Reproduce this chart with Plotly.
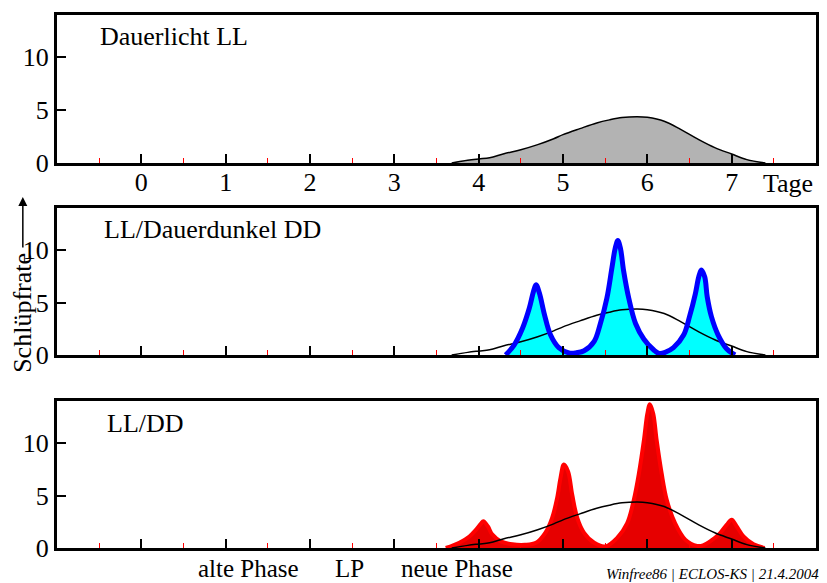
import plotly.graph_objects as go

# ---------------- data ----------------
days = [0, 1, 2, 3, 4, 5, 6, 7]
day_labels = ["0", "1", "2", "3", "4", "5", "6", "7"]
half_days = [-0.5, 0.5, 1.5, 2.5, 3.5, 4.5, 5.5, 6.5, 7.5]
rate_ticks = [0, 5, 10]

# broad eclosion envelope (LL)
env_x = [3.68, 3.87, 4.0, 4.13, 4.3, 4.5, 4.7, 4.89, 5.0, 5.2, 5.4, 5.55, 5.7, 5.88, 6.0,
         6.2, 6.4, 6.6, 6.8, 7.0, 7.18, 7.4]
env_y = [0.0, 0.25, 0.38, 0.5, 0.88, 1.26, 1.74, 2.3, 2.68, 3.25, 3.79, 4.08, 4.3, 4.38, 4.32,
         3.95, 3.15, 2.25, 1.45, 0.85, 0.32, 0.0]

# LL -> DD gated peaks
dd_x = [4.32, 4.42, 4.52, 4.60, 4.65, 4.68, 4.72, 4.78, 4.85, 4.95, 5.07, 5.15, 5.25, 5.37,
        5.44, 5.52, 5.58, 5.62, 5.65, 5.68, 5.72, 5.78, 5.86, 5.96, 6.08, 6.14, 6.21, 6.31,
        6.43, 6.50, 6.57, 6.61, 6.64, 6.68, 6.71, 6.76, 6.84, 6.94, 7.04]
dd_y = [0.0, 0.95, 2.55, 4.45, 6.05, 6.7, 5.9, 3.85, 1.95, 0.7, 0.2, 0.2, 0.4, 1.3,
        2.9, 5.4, 8.3, 10.2, 10.9, 10.2, 7.95, 5.4, 3.0, 1.5, 0.45, 0.15, 0.25, 0.7,
        1.9, 3.65, 5.85, 7.45, 8.1, 7.45, 5.55, 3.65, 1.9, 0.6, 0.0]

# LL/DD with light pulse (phase shift)
lp_x = [3.61, 3.77, 3.89, 3.97, 4.03, 4.055, 4.11, 4.16, 4.26, 4.40, 4.55, 4.68, 4.79, 4.87,
        4.93, 4.97, 5.01, 5.06, 5.11, 5.17, 5.25, 5.37, 5.50, 5.64, 5.76, 5.84, 5.90, 5.96,
        6.0, 6.03, 6.07, 6.11, 6.17, 6.23, 6.33, 6.45, 6.59, 6.66, 6.74, 6.86, 6.94, 7.0,
        7.06, 7.14, 7.26, 7.39]
lp_y = [0.0, 0.5, 1.1, 1.75, 2.35, 2.55, 2.05, 1.3, 0.65, 0.35, 0.3, 0.5, 1.45, 2.85,
        4.75, 6.65, 7.95, 7.3, 5.05, 2.85, 1.45, 0.5, 0.15, 0.95, 2.35, 4.6, 7.1, 10.3,
        12.8, 13.7, 12.8, 10.3, 7.1, 4.6, 2.35, 0.8, 0.2, 0.25, 0.6, 1.4, 2.2, 2.7,
        2.05, 1.1, 0.35, 0.0]

panel_titles = ["Dauerlicht LL", "LL/Dauerdunkel DD", "LL/DD"]
bottom_labels = ["alte Phase", "LP", "neue Phase"]

# ---------------- layout helpers ----------------
W, H = 827, 583
ML, MR, MT, MB = 57, 8, 15, 35
PW, PH = W - ML - MR, H - MT - MB


def px(x):
    return (x - ML) / PW


def py(y):
    return (H - MB - y) / PH


FONT = "Liberation Serif"

fig = go.Figure()

# panel 1
fig.add_trace(go.Scatter(x=env_x, y=env_y, mode="lines", line=dict(color="black", width=1.5, shape="spline"),
                         fill="tozeroy", fillcolor="#b3b3b3", xaxis="x", yaxis="y", showlegend=False))
# panel 2
fig.add_trace(go.Scatter(x=dd_x, y=dd_y, mode="lines", line=dict(color="rgba(0,0,0,0)", width=0, shape="spline"),
                         fill="tozeroy", fillcolor="#00ffff", xaxis="x2", yaxis="y2", showlegend=False))
fig.add_trace(go.Scatter(x=env_x, y=env_y, mode="lines", line=dict(color="black", width=1.5, shape="spline"),
                         xaxis="x2", yaxis="y2", showlegend=False))
fig.add_trace(go.Scatter(x=dd_x, y=dd_y, mode="lines", line=dict(color="#0000ff", width=5, shape="spline"),
                         xaxis="x2", yaxis="y2", showlegend=False))
# panel 3
fig.add_trace(go.Scatter(x=lp_x, y=lp_y, mode="lines", line=dict(color="#ff0000", width=4, shape="spline"),
                         fill="tozeroy", fillcolor="#e60000", xaxis="x3", yaxis="y3", showlegend=False))
fig.add_trace(go.Scatter(x=env_x, y=env_y, mode="lines", line=dict(color="black", width=1.5, shape="spline"),
                         xaxis="x3", yaxis="y3", showlegend=False))

domains = [[py(163), py(15)], [py(355), py(208)], [py(548), py(401)]]

for i in range(3):
    sx = "" if i == 0 else str(i + 1)
    fig.layout["xaxis" + sx] = dict(
        domain=[0, 1], anchor="y" + sx, range=[-1, 8],
        showline=True, mirror=True, linecolor="black", linewidth=3,
        ticks="inside", tickvals=days, ticktext=day_labels, ticklen=9, tickwidth=1.5, tickcolor="black",
        minor=dict(tickvals=half_days, ticks="inside", ticklen=5, tickwidth=1, tickcolor="#ff0000"),
        showticklabels=(i == 0), showgrid=False, zeroline=False, ticklabelstandoff=-6,
        tickfont=dict(family=FONT, size=26, color="black"),
    )
    fig.layout["yaxis" + sx] = dict(
        domain=domains[i], anchor="x" + sx, range=[0, 14],
        showline=True, mirror=True, linecolor="black", linewidth=3,
        ticks="inside", tickvals=rate_ticks, ticklen=9, tickwidth=1.5, tickcolor="black",
        showgrid=False, zeroline=False,
        tickfont=dict(family=FONT, size=26, color="black"),
    )

ann = []
title_pos = [(98, 36), (102, 229), (105, 423)]
for t, (x0, y0) in zip(panel_titles, title_pos):
    ann.append(dict(text=t, x=px(x0), y=py(y0), xref="paper", yref="paper", xanchor="left", yanchor="middle",
                    showarrow=False, font=dict(family=FONT, size=26, color="black")))
ann.append(dict(text="Tage", x=px(791), y=py(183), xref="paper", yref="paper", xanchor="center", yanchor="middle",
                showarrow=False, font=dict(family=FONT, size=26, color="black")))
for t, xc in zip(bottom_labels, [249, 351, 459]):
    ann.append(dict(text=t, x=px(xc), y=py(568), xref="paper", yref="paper", xanchor="center", yanchor="middle",
                    showarrow=False, borderpad=0, font=dict(family=FONT, size=25, color="black")))
ann.append(dict(text="<i>Winfree86 | ECLOS-KS | 21.4.2004</i>", x=px(824), y=py(574), xref="paper", yref="paper",
                xanchor="right", yanchor="middle", showarrow=False, font=dict(family=FONT, size=15, color="black")))
ann.append(dict(text="Schlüpfrate", textangle=-90, x=px(21.7), y=py(313), xref="paper", yref="paper",
                xanchor="center", yanchor="middle", showarrow=False, font=dict(family=FONT, size=26, color="black")))
ann.append(dict(text="", x=px(22.7), y=py(197), xref="paper", yref="paper", showarrow=True,
                ax=0, ay=52, arrowhead=2, arrowsize=1.2, arrowwidth=1.5, arrowcolor="black"))

fig.update_layout(
    width=W, height=H, margin=dict(l=ML, r=MR, t=MT, b=MB),
    paper_bgcolor="white", plot_bgcolor="white", annotations=ann, showlegend=False,
)

fig.write_html("out.html")
